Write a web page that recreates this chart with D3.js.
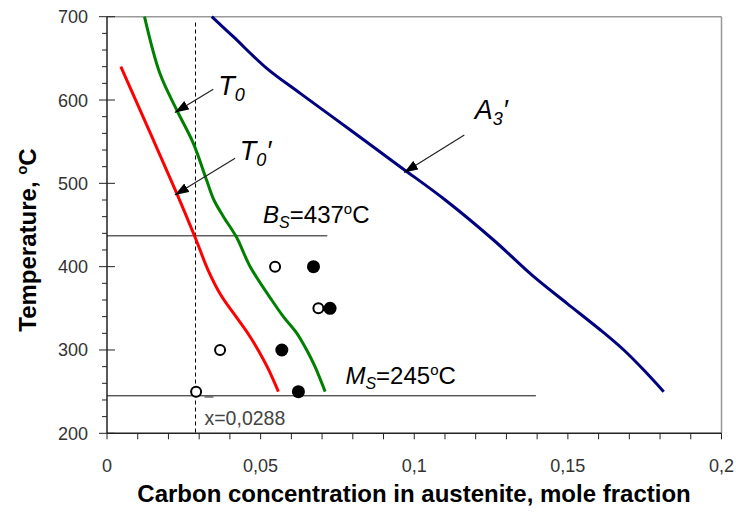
<!DOCTYPE html>
<html>
<head>
<meta charset="utf-8">
<script src="https://cdn.jsdelivr.net/npm/d3@7"></script>
<style>
  body { margin: 0; background: #fff; }
  text { font-family: Arial, "Liberation Sans", sans-serif; }
</style>
</head>
<body>
<div id="chart"></div>
<script>
// axis ticks
const xTicks = [0, 0.05, 0.1, 0.15, 0.2];
const xTickLabels = ['0', '0,05', '0,1', '0,15', '0,2'];
const yTicks = [200, 300, 400, 500, 600, 700];

// curves: [carbon mole fraction, temperature]
const t0Prime = [[0.0045, 640], [0.0227, 488], [0.0287, 435], [0.0330, 395], [0.0372, 365],
                 [0.0420, 340], [0.0462, 318], [0.0495, 298], [0.0524, 278], [0.0558, 250]];
const t0 = [[0.0122, 700], [0.0172, 632], [0.0227, 588], [0.0281, 548], [0.0324, 504],
            [0.0348, 480], [0.0379, 460], [0.0422, 435], [0.0466, 400], [0.0536, 360],
            [0.0574, 340], [0.0618, 320], [0.0650, 300], [0.0677, 280], [0.0710, 250]];
const a3Prime = [[0.0341, 700], [0.0411, 676], [0.0520, 638], [0.0629, 608], [0.0792, 564],
                 [0.0954, 520], [0.1101, 480], [0.1258, 432], [0.1389, 388], [0.1497, 356],
                 [0.1606, 324], [0.1682, 300], [0.1747, 276], [0.1812, 250]];

// measured points
const openPts = [[0.0547, 400], [0.0688, 350], [0.0368, 300], [0.0290, 250]];
const filledPts = [[0.0672, 400], [0.0726, 350], [0.0569, 300], [0.0623, 250]];

// reference lines
const bsTemp = 437, bsEnd = 0.0717;
const msTemp = 245, msEnd = 0.1396;
const xMean = 0.0288;

const width = 736, height = 512;
const svg = d3.select('#chart').append('svg')
    .attr('width', width)
    .attr('height', height);

const x = d3.scaleLinear().domain([0, 0.2]).range([107, 721.5]);
const y = d3.scaleLinear().domain([200, 700]).range([433.3, 16.7]);

svg.append('defs').append('marker')
    .attr('id', 'arrow')
    .attr('viewBox', '0 0 14 10')
    .attr('refX', 14).attr('refY', 5)
    .attr('markerWidth', 14).attr('markerHeight', 10)
    .attr('markerUnits', 'userSpaceOnUse')
    .attr('orient', 'auto')
    .append('path')
    .attr('d', 'M0,0 L14,5 L0,10 Z')
    .attr('fill', '#000');

// frame (top / right grey)
svg.append('line').attr('x1', x(0)).attr('x2', x(0.2)).attr('y1', y(700)).attr('y2', y(700))
    .attr('stroke', '#999').attr('stroke-width', 1.5);
svg.append('line').attr('x1', x(0.2)).attr('x2', x(0.2)).attr('y1', y(700)).attr('y2', y(200))
    .attr('stroke', '#999').attr('stroke-width', 1.5);

// x axis
const xAxis = svg.append('g');
xAxis.append('line').attr('x1', x(0)).attr('x2', x(0.2)).attr('y1', y(200)).attr('y2', y(200))
    .attr('stroke', '#222').attr('stroke-width', 1.5);
d3.range(0, 21).forEach(i => {
    xAxis.append('line')
        .attr('x1', x(i / 100)).attr('x2', x(i / 100))
        .attr('y1', y(200)).attr('y2', y(200) + 6)
        .attr('stroke', '#222');
});
xTicks.forEach((t, i) => {
    xAxis.append('text')
        .attr('x', x(t)).attr('y', 472)
        .attr('text-anchor', 'middle')
        .attr('font-size', 18)
        .attr('fill', '#333')
        .text(xTickLabels[i]);
});

// y axis
const yAxis = svg.append('g');
yAxis.append('line').attr('x1', x(0)).attr('x2', x(0)).attr('y1', y(200)).attr('y2', y(700))
    .attr('stroke', '#222').attr('stroke-width', 1.5);
d3.range(200, 701, 20).forEach(t => {
    const major = t % 100 === 0;
    yAxis.append('line')
        .attr('x1', x(0) - (major ? 8 : 5)).attr('x2', x(0) + (major ? 8 : 0))
        .attr('y1', y(t)).attr('y2', y(t))
        .attr('stroke', '#222');
});
yTicks.forEach(t => {
    yAxis.append('text')
        .attr('x', 88).attr('y', y(t) + 6.5)
        .attr('text-anchor', 'end')
        .attr('font-size', 18)
        .attr('fill', '#333')
        .text(t);
});

// axis titles
svg.append('text')
    .attr('x', 414).attr('y', 502)
    .attr('text-anchor', 'middle')
    .attr('font-size', 24).attr('font-weight', 'bold')
    .text('Carbon concentration in austenite, mole fraction');

const yTitle = svg.append('text')
    .attr('transform', 'translate(36,240) rotate(-90)')
    .attr('text-anchor', 'middle')
    .attr('font-size', 24).attr('font-weight', 'bold');
yTitle.append('tspan').text('Temperature, ');
yTitle.append('tspan').attr('font-size', 15).attr('dy', -9).text('o');
yTitle.append('tspan').attr('dy', 9).text('C');

// Bs and Ms lines
svg.append('line').attr('x1', x(0)).attr('x2', x(bsEnd)).attr('y1', y(bsTemp)).attr('y2', y(bsTemp))
    .attr('stroke', '#111').attr('stroke-width', 1);
svg.append('line').attr('x1', x(0)).attr('x2', x(msEnd)).attr('y1', y(msTemp)).attr('y2', y(msTemp))
    .attr('stroke', '#111').attr('stroke-width', 1);

// mean carbon dashed line
svg.append('line').attr('x1', x(xMean)).attr('x2', x(xMean)).attr('y1', y(693)).attr('y2', y(200))
    .attr('stroke', '#000').attr('stroke-width', 1).attr('stroke-dasharray', '4,3');

// curves
const line = d3.line()
    .x(d => x(d[0]))
    .y(d => y(d[1]))
    .curve(d3.curveCatmullRom.alpha(0.5));

[[t0Prime, '#ff0000'], [t0, '#008000'], [a3Prime, '#000080']].forEach(([data, color]) => {
    svg.append('path')
        .datum(data)
        .attr('d', line)
        .attr('fill', 'none')
        .attr('stroke', color)
        .attr('stroke-width', 3);
});

// points
svg.selectAll('.open').data(openPts).enter().append('circle')
    .attr('cx', d => x(d[0])).attr('cy', d => y(d[1]))
    .attr('r', 5)
    .attr('fill', '#fff').attr('stroke', '#000').attr('stroke-width', 2);
svg.selectAll('.filled').data(filledPts).enter().append('circle')
    .attr('cx', d => x(d[0])).attr('cy', d => y(d[1]))
    .attr('r', 6.5)
    .attr('fill', '#000');

// annotation arrows
const arrows = [
    [[0.0346, 613], [0.0221, 585]],
    [[0.0417, 530], [0.0221, 486]],
    [[0.1163, 558], [0.0967, 513]]
];
arrows.forEach(([from, to]) => {
    svg.append('line')
        .attr('x1', x(from[0])).attr('y1', y(from[1]))
        .attr('x2', x(to[0])).attr('y2', y(to[1]))
        .attr('stroke', '#222').attr('stroke-width', 1.2)
        .attr('marker-end', 'url(#arrow)');
});

function italicLabel(px, py, main, sub, prime) {
    const t = svg.append('text')
        .attr('x', px).attr('y', py)
        .attr('font-size', 27).attr('font-style', 'italic');
    t.append('tspan').text(main);
    t.append('tspan').attr('font-size', 18).attr('dy', 6).text(sub);
    if (prime) t.append('tspan').attr('dy', -6).text('\u2032');
}
italicLabel(x(0.0362), y(606), 'T', '0', false);
italicLabel(x(0.0432), y(528), 'T', '0', true);
italicLabel(x(0.1197), y(577), 'A', '3', true);

function tempLabel(px, py, main, value) {
    const t = svg.append('text')
        .attr('x', px).attr('y', py)
        .attr('font-size', 24);
    t.append('tspan').attr('font-style', 'italic').text(main);
    t.append('tspan').attr('font-style', 'italic').attr('font-size', 16).attr('dy', 5).text('S');
    t.append('tspan').attr('dy', -5).text('=' + value);
    t.append('tspan').attr('font-size', 15).attr('dy', -9).text('o');
    t.append('tspan').attr('dy', 9).text('C');
}
tempLabel(x(0.0508), y(452), 'B', bsTemp);
tempLabel(x(0.0776), y(259), 'M', msTemp);

// mean label
svg.append('text')
    .attr('x', x(xMean) + 9).attr('y', 425)
    .attr('font-size', 19.5).attr('fill', '#444')
    .text('x=' + String(xMean).replace('.', ','));
svg.append('line')
    .attr('x1', x(xMean) + 9).attr('x2', x(xMean) + 18)
    .attr('y1', 397).attr('y2', 397)
    .attr('stroke', '#444').attr('stroke-width', 1.2);
</script>
</body>
</html>
